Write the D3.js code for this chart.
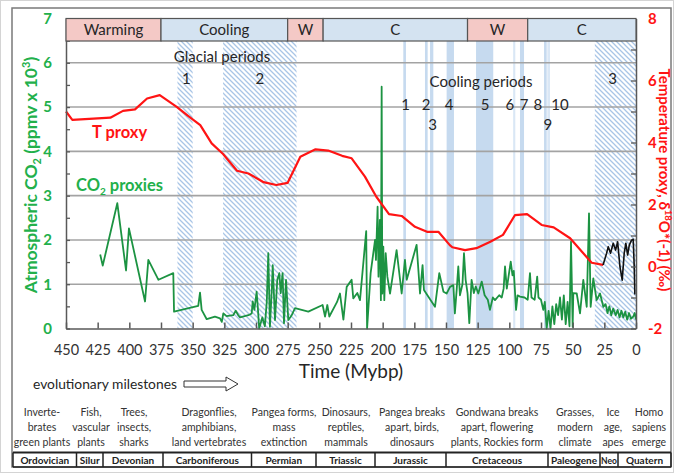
<!DOCTYPE html>
<html><head><meta charset="utf-8">
<script src="https://cdn.jsdelivr.net/npm/d3@7"></script>
<style>body{margin:0;background:#fff}svg{display:block;font-family:Lato,'Open Sans',sans-serif}</style>
</head><body><svg id="c" width="674" height="473"></svg>
<script>
// ---------------- DATA ----------------
const xTicks = [450,425,400,375,350,325,300,275,250,225,200,175,150,125,100,75,50,25,0];
const leftTickLabels = [0,1,2,3,4,5,6,7];
const rightTickLabels = [-2,0,2,4,6,8];

const trendLabels = ["Warming","Cooling","W","C","W","C"];
const trendStart  = [450,375,275,247,133,85.5];
const trendEnd    = [375,275,247,133,85.5,0];
const trendWarm   = [true,false,true,false,true,false];

const glacialStart = [362,326,32.5];
const glacialEnd   = [350,268,0];
const glacialNames = ["1","2","3"];
const glacialLabelAt = [355,297,18.5];

const coolStart = [183.7,166.6,162.6,149.5,126.3,97,91.6,72.6,70];
const coolEnd   = [181.6,164.5,160,143.7,112.7,95.3,88.4,70.5,67.9];
const coolNames1 = ["1","2","4","5","6","7","8","10"];
const coolAt1    = [181.8,165.8,147.6,119.2,99.5,88.4,77.4,60];
const coolNames2 = ["3","9"];
const coolAt2    = [160.5,69.5];

// T proxy (right axis)
const tAge = [450,445,415,405,395.5,386,376,362.6,353.4,344,335,326,315,306,297,294,284,275,265,253,243,232,224.5,214,205,195,185,174.5,165,156,147,145,135,126,115,105,95.5,86,74.5,65,52,35,26];
const tVal = [5.0,4.73,4.8,5.02,5.07,5.42,5.53,5.15,4.85,4.56,3.97,3.63,3.09,3.0,2.79,2.72,2.63,2.70,3.54,3.78,3.74,3.57,3.49,2.9,2.25,1.69,1.63,1.28,1.12,1.12,0.69,0.62,0.53,0.59,0.80,1.02,1.66,1.69,1.34,1.26,0.91,0.12,0.05];

// recent record (right axis)
const bAge = [26,23.2,21.9,20.1,18,16.1,14.5,12.7,10.9,9.3,8,6.6,5.3,3.5,2.2,1.4,0.9];
const bVal = [0.05,0.43,0.64,0.43,0.75,0.53,0.80,0,-0.44,0.43,0.75,0.37,0.69,0.85,0.88,0,-0.9];

// CO2 proxies (left axis, ppmv x 1000)
const cAge = [423,421,409.5,402.6,400.3,387.6,385,377,365.3,364.7,345.6,344.2,342.9,338.9,332.4,328.4,327,325.8,323.2,318,316,314,312.6,306,303.4,302.6,301.3,299.5,298.5,297.5,295,293,291.5,290.3,289,287.5,286.8,285,283.2,281.6,280.5,279,277.9,276.3,274.5,271.8,269.2,258.7,247.4,245.5,243.7,242.1,236,233.7,231,228.4,224.5,223.2,220,217.9,213,212.3,209.5,206,205.3,204,203.3,202.2,201.4,200.8,200.3,199.5,198.7,197.6,196.3,194.2,189,185,182.4,181,173.2,170.5,168.5,167.4,158.7,155.3,152,149.5,146.8,144.2,143,141.5,140.3,139,137,135.8,134.5,133,131.6,129.8,128,126.5,124.5,121.8,119.5,117,115.3,113,111.3,108,106,104.5,103.4,102,100.5,98.9,97.5,96.5,94.7,93.5,91.6,88,85.5,83.7,82.5,80,78,77,75,73.2,72,70.5,69,67.5,66,64.5,63,61.5,60,58.5,57,55.5,54,52.5,51.3,50,49.5,46.8,44.2,41.6,38.9,37.1,35.8,33.7,31.1,28.4,25.8,24,22.5,21,19.5,18,16,14.5,13,11.5,10,8.5,7,5.5,4,2.2,1,0];
const cVal = [1.67,1.42,2.83,1.31,2.26,0.61,1.55,1.10,1.25,0.38,0.51,0.81,0.42,0.21,0.27,0.23,0.15,0.34,0.28,0.30,0.40,0.30,0.25,0.30,0.34,0.61,0.42,0.83,0.45,0.0,0.25,0.05,0.6,1.70,0.04,0.9,1.43,0.19,1.1,1.25,0.8,1.25,0.12,1.1,0.19,0.3,0.46,0.38,0.53,0.27,0.53,0.27,0.6,0.79,0.2,0.94,1.10,0.68,0.8,0.64,2.2,0.0,1.25,2.0,1.55,2.75,1.17,2.45,0.64,5.46,0.79,1.85,0.64,1.7,1.17,0.79,1.77,0.79,1.55,1.1,1.89,0.79,1.43,0.87,0.49,1.25,0.83,0.79,0.94,0.98,0.34,0.9,1.40,0.75,1.0,1.70,1.1,0.8,0.12,1.10,0.8,0.95,0.79,1.06,0.75,0.65,0.42,0.7,0.64,0.75,0.7,0.9,1.40,0.9,1.2,1.51,1.2,1.3,0.42,0.75,0.72,0.7,0.65,1.25,0.7,0.65,1.17,0.7,0.65,0.42,0.6,0.0,0.4,0.0,0.5,0.1,0.55,0.3,0.7,0.2,0.75,0.1,0.6,0.05,1.96,0.04,0.8,0.79,0.34,1.1,0.49,2.6,0.49,1.13,0.64,0.79,0.49,0.55,0.35,0.5,0.3,0.45,0.3,0.42,0.25,0.4,0.25,0.38,0.2,0.35,0.22,0.27,0.35,0.2];

const milestones = [["Inverte-","brates","green plants"],["Fish,","vascular","plants"],["Trees,","insects,","sharks"],["Dragonflies,","amphibians,","land vertebrates"],["Pangea forms,","mass","extinction"],["Dinosaurs,","reptiles,","mammals"],["Pangea breaks","apart, birds,","dinosaurs"],["Gondwana breaks","apart, flowering","plants, Rockies form"],["Grasses,","modern","climate"],["Ice","age,","apes"],["Homo","sapiens","emerge"]];
const periods = ["Ordovician","Silur","Devonian","Carboniferous","Permian","Triassic","Jurassic","Cretaceous","Paleogene","Neo","Quatern"];

// ---------------- LAYOUT ----------------
const milestoneCenters = [42,91,134,209,284,346,412,497,575,613,649];
const periodEdges = [13,76.5,103,163,251.5,316,375,446,548,600,618,671];

const svg = d3.select("#c");
const X0=66, X1=636, YB=328.5, YT=18.5;
const x = d3.scaleLinear().domain([450,0]).range([X0,X1]);
const yL = d3.scaleLinear().domain([0,7]).range([YB,YT]);
const yR = d3.scaleLinear().domain([-2,8]).range([YB,YT]);
const bandBottom = 41;

const GREEN="#1c9342", LGREEN="#22b04b", RED="#ff1414", DARK="#262626";

// frames
svg.append("rect").attr("x",0.5).attr("y",0.5).attr("width",673).attr("height",472).attr("fill","#fff").attr("stroke","#d4d4d4");
svg.append("rect").attr("x",12).attr("y",8).attr("width",659).attr("height",459).attr("fill","#fff").attr("stroke","#7a7a7a").attr("stroke-width",1.5);

// pattern
const defs = svg.append("defs");
const pat = defs.append("pattern").attr("id","hatch").attr("patternUnits","userSpaceOnUse").attr("width",5).attr("height",5);
pat.append("path").attr("d","M-1,-1 L6,6 M-1,4 L1,6 M4,-1 L6,1").attr("stroke","#a9c5e6").attr("stroke-width",1.3);

// hatched glacial periods
svg.append("g").selectAll("rect").data(glacialStart).join("rect")
  .attr("x",(d)=>x(d)).attr("width",(d,i)=>x(glacialEnd[i])-x(d))
  .attr("y",bandBottom).attr("height",YB-bandBottom).attr("fill","url(#hatch)");

// cooling periods
svg.append("g").selectAll("rect").data(coolStart).join("rect")
  .attr("x",(d)=>x(d)).attr("width",(d,i)=>x(coolEnd[i])-x(d))
  .attr("y",bandBottom).attr("height",YB-bandBottom)
  .attr("fill","#bcd4ec").attr("opacity",(d,i)=> (i===5||i===8)?0.55:0.85);

// gridlines
svg.append("g").selectAll("line").data([1,2,3,4,5,6]).join("line")
  .attr("x1",X0).attr("x2",X1).attr("y1",d=>yL(d)).attr("y2",d=>yL(d))
  .attr("stroke","#a3a3a3").attr("stroke-width",1.6);

// lines
const lineL = d3.line().x(d=>x(d[0])).y(d=>yL(d[1]));
const lineR = d3.line().x(d=>x(d[0])).y(d=>yR(d[1]));
svg.append("path").datum(cAge.map((a,i)=>[a,cVal[i]])).attr("d",lineL)
  .attr("fill","none").attr("stroke",GREEN).attr("stroke-width",1.8).attr("stroke-linejoin","round");
svg.append("path").datum(tAge.map((a,i)=>[a,tVal[i]])).attr("d",lineR)
  .attr("fill","none").attr("stroke",RED).attr("stroke-width",2.2).attr("stroke-linejoin","round");
svg.append("path").datum(bAge.map((a,i)=>[a,bVal[i]])).attr("d",lineR)
  .attr("fill","none").attr("stroke","#111").attr("stroke-width",1.6).attr("stroke-linejoin","round");

// axes
const ax = svg.append("g").attr("transform",`translate(0,${YB})`)
  .call(d3.axisBottom(x).tickValues(xTicks).tickSizeInner(-6).tickSizeOuter(0).tickPadding(16).tickFormat(d=>String(d)));
ax.select(".domain").attr("stroke","#595959").attr("stroke-width",1.5);
ax.selectAll(".tick line").attr("stroke","#595959").attr("stroke-width",1.5);
ax.selectAll("text").attr("font-size",14.5).attr("fill","#333").attr("font-family","Lato");

const ayl = svg.append("g").attr("transform",`translate(${X0},0)`)
  .call(d3.axisLeft(yL).tickValues(d3.range(0,7.01,0.5)).tickSizeInner(-4).tickSizeOuter(0).tickPadding(14)
  .tickFormat(d=>leftTickLabels.includes(d)?String(d):""));
ayl.select(".domain").attr("stroke","#595959").attr("stroke-width",1.5);
ayl.selectAll(".tick line").attr("stroke","#595959").attr("stroke-width",1.3);
ayl.selectAll("text").attr("font-size",15).attr("font-weight","bold").attr("fill",LGREEN).attr("font-family","Lato");

const ayr = svg.append("g").attr("transform",`translate(${X1},0)`)
  .call(d3.axisRight(yR).tickValues(d3.range(-2,8.01,1)).tickSizeInner(-5).tickSizeOuter(0).tickPadding(12)
  .tickFormat(d=>rightTickLabels.includes(d)?String(d):""));
ayr.select(".domain").attr("stroke","#595959").attr("stroke-width",1.5);
ayr.selectAll(".tick line").attr("stroke","#595959").attr("stroke-width",1.3);
ayr.selectAll("text").attr("font-size",15).attr("font-weight","bold").attr("fill",RED).attr("font-family","Lato");

// top trend band
const tb = svg.append("g");
tb.selectAll("rect").data(trendStart).join("rect")
  .attr("x",d=>x(d)).attr("width",(d,i)=>x(trendEnd[i])-x(d))
  .attr("y",YT).attr("height",bandBottom-YT)
  .attr("fill",(d,i)=>trendWarm[i]?"#f4c9c6":"#d4e3f1").attr("stroke","#555").attr("stroke-width",1.2);
tb.selectAll("text").data(trendStart).join("text")
  .attr("x",(d,i)=>(x(d)+x(trendEnd[i]))/2).attr("y",(YT+bandBottom)/2).attr("dy","0.35em")
  .attr("text-anchor","middle").attr("font-size",15).attr("fill",DARK).text((d,i)=>trendLabels[i]);

// annotations
const ann = svg.append("g").attr("font-size",15).attr("fill",DARK).attr("text-anchor","middle");
ann.append("text").attr("x",222).attr("y",62).text("Glacial periods");
ann.selectAll(".g").data(glacialNames).join("text").attr("class","g")
  .attr("x",(d,i)=>x(glacialLabelAt[i])).attr("y",83.5).text(d=>d);
ann.append("text").attr("x",481).attr("y",87).text("Cooling periods");
ann.selectAll(".c1").data(coolNames1).join("text").attr("class","c1")
  .attr("x",(d,i)=>x(coolAt1[i])).attr("y",109.5).text(d=>d);
ann.selectAll(".c2").data(coolNames2).join("text").attr("class","c2")
  .attr("x",(d,i)=>x(coolAt2[i])).attr("y",129.5).text(d=>d);

svg.append("text").attr("x",92).attr("y",137.5).attr("font-size",16.5).attr("font-weight","bold").attr("fill",RED).text("T proxy");
const co = svg.append("text").attr("x",76).attr("y",190.5).attr("font-size",16.5).attr("font-weight","bold").attr("fill",LGREEN);
co.append("tspan").text("CO");
co.append("tspan").attr("font-size",10).attr("dy",4).text("2");
co.append("tspan").attr("dy",-4).text(" proxies");

// axis titles
const lt = svg.append("text").attr("transform","translate(37,175) rotate(-90)").attr("text-anchor","middle")
  .attr("font-size",17.5).attr("font-weight","bold").attr("fill",LGREEN);
lt.append("tspan").text("Atmospheric CO");
lt.append("tspan").attr("font-size",11).attr("dy",4).text("2");
lt.append("tspan").attr("dy",-4).text(" (ppmv x 10");
lt.append("tspan").attr("font-size",11).attr("dy",-7).text("3");
lt.append("tspan").attr("dy",7).text(")");

const rt = svg.append("text").attr("transform","translate(659,180) rotate(90)").attr("text-anchor","middle")
  .attr("font-size",15).attr("font-weight","bold").attr("fill",RED);
rt.append("tspan").text("Temperature proxy, δ");
rt.append("tspan").attr("font-size",9.5).attr("dy",-6).text("18");
rt.append("tspan").attr("dy",6).text("O*(-1) (‰)");

// x title + milestones
svg.append("text").attr("x",351).attr("y",378).attr("text-anchor","middle").attr("font-size",19).attr("fill",DARK).text("Time (Mybp)");
svg.append("text").attr("x",33).attr("y",389).attr("font-size",13.8).attr("fill",DARK).text("evolutionary milestones");
svg.append("path").attr("d","M184,381 L226,381 L226,377 L238,384 L226,391 L226,387 L184,387 Z")
  .attr("fill","#fff").attr("stroke","#333").attr("stroke-width",1);

const ms = svg.append("g").attr("font-size",10.5).attr("fill","#333").attr("text-anchor","middle");
milestones.forEach((lines,i)=>{
  lines.forEach((t,j)=>{
    ms.append("text").attr("x",milestoneCenters[i]).attr("y",415.5+j*15).text(t);
  });
});

// period table
const pt = svg.append("g");
pt.append("line").attr("x1",13).attr("x2",671).attr("y1",452.5).attr("y2",452.5).attr("stroke","#222").attr("stroke-width",1.8);
pt.append("line").attr("x1",13).attr("x2",671).attr("y1",467).attr("y2",467).attr("stroke","#222").attr("stroke-width",1.5);
pt.selectAll("line.v").data(periodEdges).join("line").attr("class","v")
  .attr("x1",d=>d).attr("x2",d=>d).attr("y1",452.5).attr("y2",467).attr("stroke","#222").attr("stroke-width",1.5);
pt.selectAll("text").data(periods).join("text")
  .attr("x",(d,i)=>(periodEdges[i]+periodEdges[i+1])/2).attr("y",463.5)
  .attr("text-anchor","middle").attr("font-size",(d)=>d==="Neo"?8.5:10).attr("font-weight","bold").attr("fill","#222").text(d=>d);
</script></body></html>
